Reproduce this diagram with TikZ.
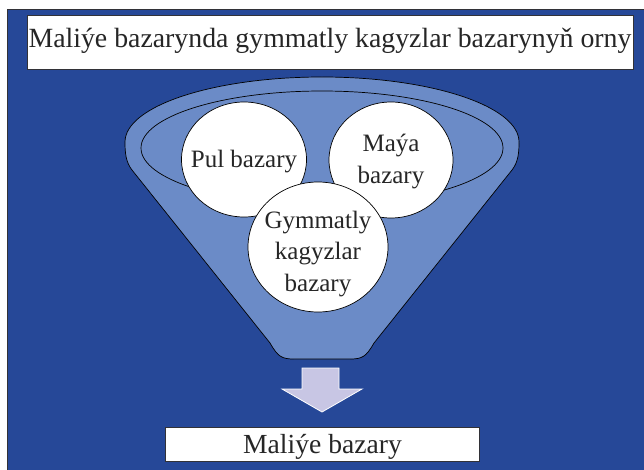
\documentclass[tikz,border=0pt]{standalone}
\usepackage{fontspec}
\setmainfont{Liberation Serif}
\usetikzlibrary{shapes.geometric}
\definecolor{bgblue}{RGB}{38,72,152}
\definecolor{funnelblue}{RGB}{107,139,199}
\definecolor{arrowlav}{RGB}{200,198,228}
\definecolor{edgegray}{RGB}{50,50,55}
\tikzset{
  ball/.style={ellipse, draw=black, line width=0.7pt, fill=white, inner sep=0pt},
  lbl/.style={align=center, inner sep=0pt, text=black!85, font=\fontsize{25}{31.5}\selectfont},
  textbox/.style={draw=edgegray, line width=1pt, fill=white, inner sep=0pt},
}
\begin{document}
\begin{tikzpicture}[x=1pt,y=-1pt]
\useasboundingbox (0,0) rectangle (644,470);
\clip (0,0) rectangle (644,470);
\fill[white] (0,0) rectangle (644,470);
\draw[edgegray, line width=1pt, fill=bgblue] (7,9.5) rectangle (660,480);
% title
\node[textbox, minimum width=606pt, minimum height=54.5pt] (title) at (330,42.75) {};
\node[anchor=base, inner sep=0pt, text=black!85, font=\fontsize{27.8}{33}\selectfont] (titletext) at (330,48) {Maliýe bazarynda gymmatly kagyzlar bazarynyň orny};
% funnel
\draw[black, line width=0.7pt, fill=funnelblue]
  (270,343) .. controls (278,357) and (282,359) .. (294,359)
  -- (350,359) .. controls (362,359) and (366,357) .. (374,343)
  -- (512,170) .. controls (518.4,162) and (519,152) .. (519,142)
  .. controls (519,106.1) and (430.8,77) .. (322,77)
  .. controls (213.2,77) and (125,106.1) .. (125,142)
  .. controls (125,152) and (125.6,162) .. (132,170)
  -- cycle;
\draw[black, line width=0.7pt] (322,148) ellipse [x radius=181, y radius=57];
% circles
\node[ball, minimum width=125pt, minimum height=115pt] (pul) at (244,159.5) {};
\node[ball, minimum width=124pt, minimum height=116pt] (maya) at (391,160) {};
\node[ball, minimum width=140pt, minimum height=130pt] (gym) at (318,247) {};
\node[lbl] (pultext) at ([yshift=-2pt]pul.center) {Pul bazary};
\node[lbl] (mayatext) at ([yshift=-1.6pt]maya.center) {Maýa\\bazary};
\node[lbl] (gymtext) at ([yshift=-7pt]gym.center) {Gymmatly\\kagyzlar\\bazary};
% arrow
\draw[white, line width=0.8pt, fill=arrowlav]
  (302,368) -- (339,368) -- (339,389) -- (362,389) -- (322,412) -- (282,389) -- (302,389) -- cycle;
% bottom box
\node[textbox, minimum width=314pt, minimum height=34pt] (bottom) at (322,444) {};
\node[anchor=base, inner sep=0pt, text=black!85, font=\fontsize{27.6}{33}\selectfont] (bottomtext) at (322.5,453.3) {Maliýe bazary};
\end{tikzpicture}
\end{document}
